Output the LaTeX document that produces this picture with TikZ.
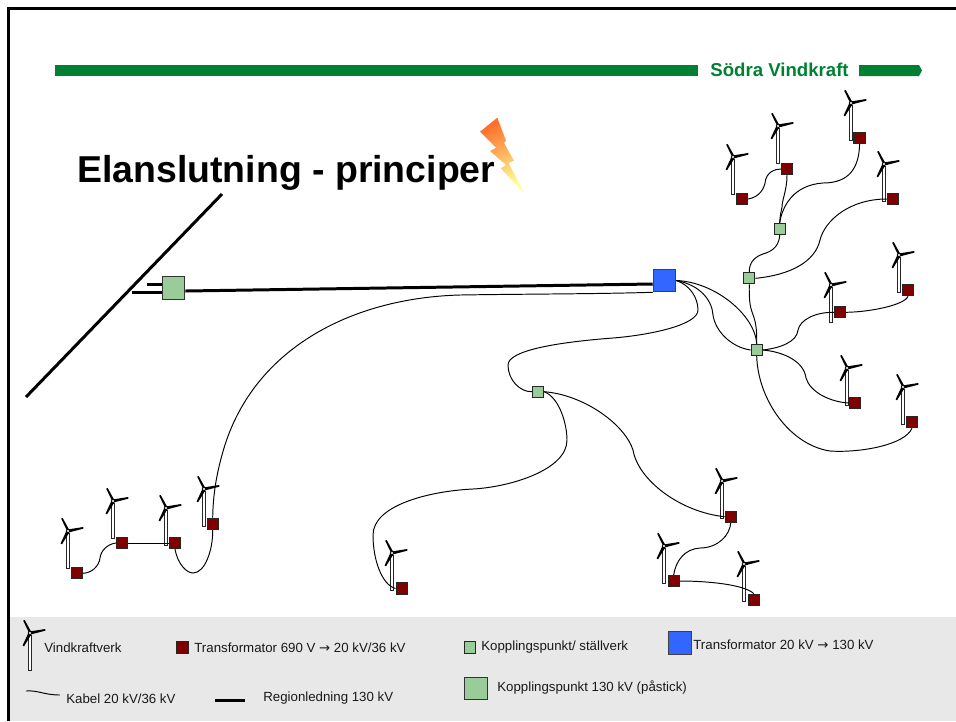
\documentclass[tikz,border=0pt]{standalone}
\usepackage{fontspec}
\setmainfont{Liberation Sans}
\newfontfamily\arrowfont{DejaVu Sans}
\definecolor{barg}{HTML}{008033}
\definecolor{trafor}{HTML}{800000}
\definecolor{koppg}{HTML}{99CC99}
\definecolor{trafob}{HTML}{3366FF}
\definecolor{band}{HTML}{E8E8E8}
\definecolor{boltA}{HTML}{FF6E2A}
\definecolor{boltB}{HTML}{FFFF99}
\tikzset{
  trafo/.style={draw=black!85,line width=0.6pt,fill=trafor,inner sep=0pt,minimum size=0.225cm},
  kopp/.style={draw=black!85,line width=0.6pt,fill=koppg,inner sep=0pt,minimum size=0.225cm},
  koppbig/.style={draw=black!80,line width=0.6pt,fill=koppg,inner sep=0pt,minimum size=0.45cm},
  trafobig/.style={draw=black!75,line width=0.6pt,fill=trafob,inner sep=0pt,minimum size=0.45cm},
  cable/.style={draw=black,line width=0.55pt},
  heavy/.style={draw=black,line width=1.7pt},
  legend/.style={anchor=west,inner sep=0pt,font=\fontsize{7.55}{9}\selectfont,text=black!90},
  turbine/.pic={
    \draw[black!85,fill=white,line width=0.5pt] (-1.2,2) rectangle (1,37);
    \fill[black] (-1.2,-0.6) -- (-6.8,-12.3) -- (-5.3,-13) -- (1.2,-1.2) -- cycle;
    \fill[black] (0,-1.6) -- (15.2,-4) -- (15.5,-2.4) -- (0.6,1.5) -- cycle;
    \fill[black] (-1.6,0) -- (-7.4,12.4) -- (-6,13.3) -- (1.3,1.5) -- cycle;
    \draw[black,fill=white,line width=0.4pt] (0,0) circle (1.8);
  }
}
\begin{document}
\begin{tikzpicture}[x=0.02cm,y=-0.02cm]
\useasboundingbox (0,0) rectangle (956,721);
\fill[white] (0,0) rectangle (956,721);
% legend band and frame
\fill[band] (10,617) rectangle (956,721);
\draw[black,line width=1.4pt] (8.5,721) -- (8.5,8.5) -- (956,8.5);
% header bars
\fill[barg] (55,65) rectangle (698,76);
\fill[barg] (859,65) -- (919,65) -- (922,70.5) -- (919,76) -- (859,76) -- cycle;
\node[anchor=west,inner sep=0pt,text=barg,font=\fontsize{10.6}{12}\selectfont\bfseries] (hdr) at (710,70) {Södra Vindkraft};
% title
\node[anchor=base west,inner sep=0pt,text=black,font=\fontsize{21.3}{24}\selectfont\bfseries] (ttl) at (77,182) {Elanslutning - principer};
% lightning
\shade[top color=boltA,bottom color=boltB,shading angle=25]
  (497.3,117.7) -- (480,131.7) -- (496,147.7) -- (490,151) -- (506,165) -- (500.7,168.3) -- (524,192.7)
  -- (508.5,163) -- (514,160.7) -- (504,143) -- (506,140.7) -- cycle;
% turbines
\foreach \hx/\hy in {733/157,778/126,851/103,884/164,831/285,899/255,847/368,903/387,
  68/531,113/501,166/508,204/489,392/553,722/481,664/546,744/564,30/633}
  \pic at (\hx,\hy) {turbine};
% nodes
\node[trafo] (r1) at (742,199) {};
\node[trafo] (r2) at (787,169) {};
\node[trafo] (r3) at (859.6,138) {};
\node[trafo] (r4) at (893,199) {};
\node[trafo] (r5) at (840,312.3) {};
\node[trafo] (r6) at (908,290) {};
\node[trafo] (r7) at (855,403) {};
\node[trafo] (r8) at (912,422) {};
\node[trafo] (r9) at (76.7,573.3) {};
\node[trafo] (r10) at (122,543) {};
\node[trafo] (r11) at (175,543) {};
\node[trafo] (r12) at (212.7,523.7) {};
\node[trafo] (r13) at (401.7,588.5) {};
\node[trafo] (r14) at (730.7,516.7) {};
\node[trafo] (r15) at (673.7,581) {};
\node[trafo] (r16) at (753.7,599.7) {};
\node[kopp] (g1) at (779.7,229) {};
\node[kopp] (g2) at (749.3,278.3) {};
\node[kopp] (g3) at (756.7,350) {};
\node[kopp] (g4) at (538,391.7) {};
\node[trafobig] (bl) at (664.5,280.5) {};
\node[koppbig] (gb) at (173.5,288) {};
% heavy lines
\coordinate (d1) at (26,397);
\coordinate (d2) at (222,194);
\coordinate (s1) at (132,292);
\coordinate (s2) at (147,284);
\draw[heavy] (d1) -- (d2);
\draw[heavy] (s1) -- (s1-|gb.west);
\draw[heavy] (s2) -- (s2-|gb.west);
\draw[heavy] (gb.east|-0,291) -- (bl.west|-0,284);
% cables
\draw[cable] (r1.east) .. controls (760,197) and (764,188) .. (765,183) .. controls (766,172) and (775,169) .. (r2.west);
\draw[cable] (r2.south) .. controls (787,190) and (782,200) .. (782,207) .. controls (781,212) and (780,216) .. (g1.north);
\draw[cable] (g1.north) .. controls (782,207) and (793,185) .. (823,183) .. controls (850,183) and (859,167) .. (r3.south);
\draw[cable] (g1.south) .. controls (779,245) and (774,250) .. (766,253) .. controls (755,256) and (749,262) .. (g2.north);
\draw[cable] (g2.east) .. controls (790,275) and (815,262) .. (820,240) .. controls (825,220) and (850,199) .. (r4.west);
\draw[cable] (g2.south) .. controls (749,300) and (750,306) .. (752,312) .. controls (756,322) and (757,330) .. (g3.north);
\draw[cable] (bl.east) .. controls (715,282) and (755,315) .. (g3.north);
\draw[cable] (bl.east) .. controls (700,285) and (712,300) .. (713,315) .. controls (715,330) and (730,347) .. (g3.west);
\draw[cable] (bl.east) .. controls (690,285) and (698,298) .. (698,310) .. controls (698,325) and (650,335) .. (613,338) .. controls (560,342) and (508,350) .. (508,365) .. controls (508,380) and (520,392) .. (g4.west);
\draw[cable] (bl.south west) .. controls (600,294) and (520,294) .. (460,295) .. controls (350,298) and (250,350) .. (222,455) .. controls (215,480) and (213,500) .. (r12.north);
\draw[cable] (r11.south) .. controls (178,565) and (187,573) .. (193,573) .. controls (205,573) and (213,550) .. (r12.south);
\draw[cable] (g3.east) .. controls (780,348) and (797,342) .. (798,330) .. controls (800,320) and (815,312) .. (r5.west);
\draw[cable] (r5.east) .. controls (870,312) and (905,305) .. (r6.south);
\draw[cable] (g3.east) .. controls (785,352) and (804,362) .. (806,378) .. controls (810,392) and (830,402) .. (r7.west);
\draw[cable] (g3.south) .. controls (758,400) and (790,445) .. (830,451) .. controls (860,453) and (905,445) .. (r8.south);
\draw[cable] (g4.east) .. controls (585,395) and (625,425) .. (633,450) .. controls (638,480) and (680,512) .. (r14.west);
\draw[cable] (g4.east) .. controls (560,398) and (567,425) .. (567,440) .. controls (567,470) and (510,487) .. (473,489) .. controls (430,491) and (373,505) .. (373,535) .. controls (373,560) and (382,585) .. (r13.west);
\draw[cable] (r14.south) .. controls (730,535) and (718,548) .. (700,548) .. controls (685,549) and (676,560) .. (r15.north);
\draw[cable] (r15.east) .. controls (710,581) and (745,585) .. (r16.north);
\draw[cable] (r9.east) .. controls (92,573) and (99,566) .. (100,558) .. controls (101,550) and (108,544) .. (r10.west);
\draw[cable] (r10.east) -- (r11.west);
% legend
\node[legend] (l1) at (44,647.5) {Vindkraftverk};
\node[trafo] (lr) at (182.5,647.5) {};
\node[legend] (l2) at (194,647.5) {Transformator 690 V {\arrowfont →} 20 kV/36 kV};
\node[kopp] (lg) at (469.7,647.5) {};
\node[legend] (l3) at (481,647.5) {Kopplingspunkt/ ställverk};
\node[trafobig] (lb) at (680,643) {};
\node[legend] (l4) at (693,645) {Transformator 20 kV {\arrowfont →} 130 kV};
\node[koppbig] (lgb) at (475.8,688.5) {};
\node[legend] (l5) at (497,687.5) {Kopplingspunkt 130 kV (påstick)};
\coordinate (k1) at (26,691);
\coordinate (k2) at (60,695);
\draw[cable] (k1) .. controls (38,690) and (44,695) .. (k2);
\node[legend] (l6) at (66,698.5) {Kabel 20 kV/36 kV};
\coordinate (h1) at (215,700);
\coordinate (h2) at (245,700);
\draw[heavy] (h1) -- (h2);
\node[legend] (l7) at (263,698.5) {Regionledning 130 kV};
\end{tikzpicture}
\end{document}
